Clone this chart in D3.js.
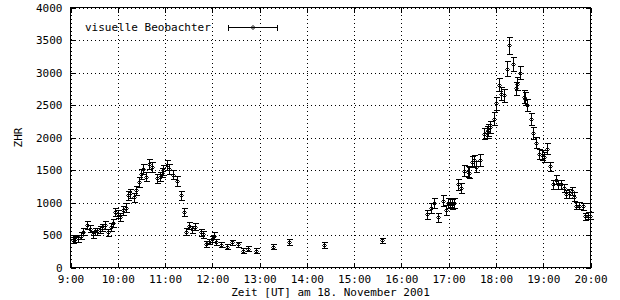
<!DOCTYPE html>
<html>
<head>
<meta charset="utf-8">
<script src="https://cdn.jsdelivr.net/npm/d3@7"></script>
<style>
  body { margin: 0; background: #fff; }
  svg { display: block; }
  text { font-family: "DejaVu Sans Mono", monospace; font-size: 11px; fill: #000; }
</style>
</head>
<body>
<div id="chart"></div>
<script>
// observation times (UT) on 18 Nov 2001
var times = [
  "9:03", "9:06", "9:10", "9:13", "9:16", "9:21", "9:25", "9:28", "9:31", "9:34",
  "9:37", "9:40", "9:44", "9:48", "9:51", "9:54", "9:56", "10:00", "10:03", "10:06",
  "10:10", "10:13", "10:16", "10:20", "10:23", "10:27", "10:29", "10:32", "10:36", "10:39",
  "10:44", "10:50", "10:53", "10:56", "10:58", "11:02", "11:05", "11:10", "11:15", "11:20",
  "11:24", "11:26", "11:30", "11:34", "11:38", "11:45", "11:48", "11:52", "11:56", "11:59",
  "12:02", "12:05", "12:11", "12:18", "12:25", "12:32", "12:39", "12:45", "12:56", "13:17",
  "13:37", "14:22", "15:35",
  "16:33", "16:38", "16:42", "16:47", "16:53", "16:57", "16:59", "17:02", "17:04", "17:07",
  "17:12", "17:15", "17:20", "17:24", "17:26", "17:30", "17:32", "17:35", "17:40", "17:45",
  "17:48", "17:50", "17:52", "17:57", "18:00", "18:04", "18:07", "18:10", "18:14", "18:16",
  "18:21", "18:25", "18:27", "18:30", "18:35", "18:37", "18:40", "18:45", "18:47", "18:51",
  "18:55", "18:58", "19:01", "19:05", "19:08", "19:13", "19:16", "19:19", "19:23", "19:26",
  "19:29", "19:33", "19:36", "19:39", "19:42", "19:46", "19:50", "19:53", "19:57", "19:59"
];

// ZHR values
var zhr = [
  420, 440, 450, 490, 550, 660, 600, 510, 560, 560,
  580, 615, 660, 540, 625, 690, 850, 820, 780, 880,
  920, 1110, 1140, 1080, 1190, 1310, 1440, 1510, 1400, 1590,
  1550, 1370, 1400, 1460, 1500, 1580, 1510, 1430, 1330, 1110,
  860, 550, 640, 590, 625, 540, 510, 360, 400, 440,
  490, 390, 350, 320, 390, 360, 260, 290, 260, 320,
  390, 340, 420,
  820, 910, 990, 770, 1030, 880, 990, 1000, 980, 990,
  1280, 1220, 1490, 1470, 1460, 1630, 1650, 1550, 1650, 2060,
  2090, 2110, 2160, 2290, 2530, 2810, 2670, 2650, 3060, 3420,
  3130, 2760, 2830, 3000, 2630, 2600, 2500, 2280, 2070, 1920,
  1750, 1730, 1700, 1830, 1560, 1280, 1350, 1280, 1280, 1220,
  1130, 1140, 1180, 1090, 950, 950, 940, 790, 800, 800
];

// error of each ZHR value
var err = [
  50, 50, 50, 50, 55, 60, 55, 50, 55, 55,
  55, 55, 60, 55, 60, 60, 65, 65, 65, 65,
  65, 70, 70, 70, 70, 75, 75, 75, 75, 75,
  75, 75, 75, 75, 75, 80, 75, 75, 75, 65,
  60, 55, 55, 55, 55, 50, 50, 45, 45, 45,
  50, 45, 40, 40, 40, 40, 35, 35, 35, 40,
  45, 45, 40,
  70, 75, 80, 70, 80, 75, 75, 75, 75, 75,
  80, 80, 85, 85, 85, 85, 85, 85, 90, 90,
  90, 90, 95, 95, 100, 100, 100, 100, 110, 130,
  110, 100, 100, 100, 100, 100, 95, 90, 90, 85,
  80, 80, 80, 80, 70, 70, 70, 70, 65, 65,
  65, 65, 65, 65, 55, 55, 55, 55, 55, 55
];

var yTicks = [0, 500, 1000, 1500, 2000, 2500, 3000, 3500, 4000];
var seriesName = "visuelle Beobachter";
var xTitle = "Zeit [UT] am 18. November 2001";
var yTitle = "ZHR";

var parse = d3.timeParse("%H:%M");
var data = times.map(function (t, i) {
  return { t: parse(t), v: zhr[i], e: err[i] };
});

var W = 620, H = 300;
var pL = 70.5, pR = 590.5, pT = 7.5, pB = 267.5;

var svg = d3.select("#chart").append("svg").attr("width", W).attr("height", H);

var x = d3.scaleTime().domain([parse("9:00"), parse("20:00")]).range([pL, pR]);
var y = d3.scaleLinear().domain([0, 4000]).range([pB, pT]);

// dotted grid
svg.append("g").attr("class", "grid")
  .attr("transform", "translate(0," + pB + ")")
  .call(d3.axisBottom(x).ticks(d3.timeHour.every(1)).tickSize(-(pB - pT)).tickFormat(""));
svg.append("g").attr("class", "grid")
  .attr("transform", "translate(" + pL + ",0)")
  .call(d3.axisLeft(y).tickValues(yTicks).tickSize(-(pR - pL)).tickFormat(""));
svg.selectAll(".grid .domain").remove();
svg.selectAll(".grid line")
  .attr("stroke", "#000").attr("stroke-dasharray", "1,3").attr("shape-rendering", "crispEdges");

// ticks, inward, mirrored
var xb = svg.append("g").attr("transform", "translate(0," + pB + ")")
  .call(d3.axisBottom(x).ticks(d3.timeHour.every(1)).tickFormat(d3.timeFormat("%-H:%M"))
    .tickSizeInner(-5).tickSizeOuter(0).tickPadding(8));
var yl = svg.append("g").attr("transform", "translate(" + pL + ",0)")
  .call(d3.axisLeft(y).tickValues(yTicks).tickFormat(d3.format("d"))
    .tickSizeInner(-5).tickSizeOuter(0).tickPadding(8));
svg.append("g").attr("transform", "translate(0," + pT + ")")
  .call(d3.axisTop(x).ticks(d3.timeHour.every(1)).tickFormat("").tickSizeInner(-5).tickSizeOuter(0));
svg.append("g").attr("transform", "translate(" + pR + ",0)")
  .call(d3.axisRight(y).tickValues(yTicks).tickFormat("").tickSizeInner(-5).tickSizeOuter(0));

svg.selectAll(".domain").remove();
svg.selectAll(".tick line").filter(function () { return !this.closest(".grid"); })
  .attr("stroke", "#000").attr("shape-rendering", "crispEdges");
svg.selectAll(".tick text").attr("font-family", null).attr("font-size", null);
xb.selectAll(".tick text").attr("y", 8).attr("dy", "0.71em");

// border
svg.append("rect")
  .attr("x", pL).attr("y", pT).attr("width", pR - pL).attr("height", pB - pT)
  .attr("fill", "none").attr("stroke", "#000").attr("shape-rendering", "crispEdges");

// axis titles
svg.append("text").attr("x", (pL + pR) / 2).attr("y", 296)
  .attr("text-anchor", "middle").text(xTitle);
svg.append("text").attr("transform", "translate(22," + (pT + pB) / 2 + ") rotate(-90)")
  .attr("text-anchor", "middle").text(yTitle);

// error bars + points
var cap = 3;
var pts = svg.append("g").attr("stroke", "#000").attr("fill", "none").attr("stroke-width", 1);
var g = pts.selectAll("g").data(data).enter().append("g");
g.append("path")
  .attr("shape-rendering", "crispEdges")
  .attr("d", function (d) {
    var px = Math.round(x(d.t)) + 0.5;
    var y0 = Math.round(y(d.v - d.e)) + 0.5, y1 = Math.round(y(d.v + d.e)) + 0.5;
    return "M" + px + "," + y0 + "V" + y1 +
      "M" + (px - cap) + "," + y0 + "H" + (px + cap) +
      "M" + (px - cap) + "," + y1 + "H" + (px + cap);
  });
g.append("path")
  .attr("d", function (d) {
    var px = Math.round(x(d.t)) + 0.5, py = Math.round(y(d.v)) + 0.5;
    return "M" + (px - 2) + "," + py + "L" + px + "," + (py - 2) + "L" + (px + 2) + "," + py + "L" + px + "," + (py + 2) + "Z";
  });

// legend
var ly = 27.5;
svg.append("text").attr("x", 85).attr("y", ly).attr("dy", "0.35em").text(seriesName);
svg.append("path").attr("stroke", "#000").attr("fill", "none").attr("shape-rendering", "crispEdges")
  .attr("d", "M228.5," + ly + "H277.5M228.5," + (ly - 3) + "V" + (ly + 3) + "M277.5," + (ly - 3) + "V" + (ly + 3));
svg.append("path").attr("stroke", "#000").attr("fill", "none")
  .attr("d", "M251," + ly + "L253," + (ly - 2) + "L255," + ly + "L253," + (ly + 2) + "Z");
</script>
</body>
</html>
